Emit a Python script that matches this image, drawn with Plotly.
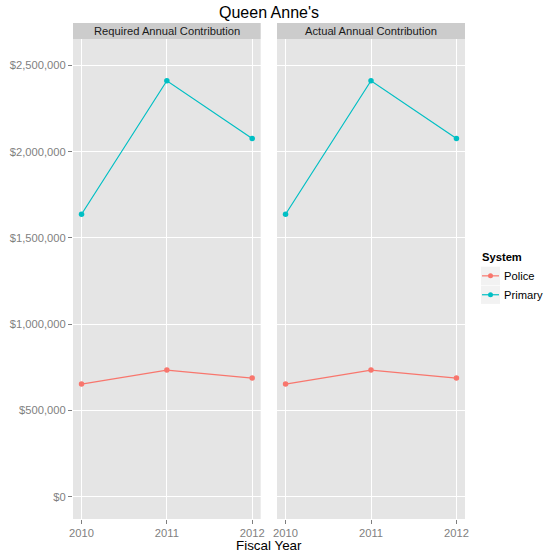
import plotly.graph_objects as go

# ---- data ----
years = [2010, 2011, 2012]
police_required = [653000, 734000, 688000]
primary_required = [1637000, 2411000, 2077000]
police_actual = [653000, 734000, 688000]
primary_actual = [1637000, 2411000, 2077000]
panel_titles = ["Required Annual Contribution", "Actual Annual Contribution"]
series_names = ["Police", "Primary"]
series_colors = ["#F8766D", "#00BFC4"]
y_tick_vals = [0, 500000, 1000000, 1500000, 2000000, 2500000]

W, H = 546, 559
PLOT_L, PLOT_R, PLOT_T, PLOT_B = 73, 465, 23, 519   # target screen pixels
ML, MT = PLOT_L, PLOT_T
MR = W - PLOT_R
MB = H - PLOT_B
PW = PLOT_R - PLOT_L
PH = PLOT_B - PLOT_T


def px(x):
    return (x - PLOT_L) / PW


def py(y):
    return (PLOT_B - y) / PH


fig = go.Figure()
panels = [(police_required, primary_required, "x", "y"),
          (police_actual, primary_actual, "x2", "y2")]
for pol, pri, xa, ya in panels:
    for vals, name, col in zip([pol, pri], series_names, series_colors):
        fig.add_trace(go.Scatter(
            x=years, y=vals, mode="lines+markers", name=name,
            line=dict(color=col, width=1.2),
            marker=dict(color=col, size=5.5),
            xaxis=xa, yaxis=ya, showlegend=False))

y_top = py(39)
dom_left = [0, px(260.7)]
dom_right = [px(277), 1]

axis_common = dict(
    showgrid=True, gridcolor="white", gridwidth=1,
    zeroline=False, showline=False, automargin=False,
    ticks="outside", ticklen=4, tickcolor="#7F7F7F", tickwidth=1,
    tickfont=dict(family="Liberation Sans, Arial, sans-serif", size=11.2, color="#7F7F7F"),
)
xr = [2009.9, 2012.1]
yr = [-129000, 2653000]

fig.update_layout(
    width=W, height=H,
    margin=dict(l=ML, r=MR, t=MT, b=MB, pad=0, autoexpand=False),
    paper_bgcolor="white",
    plot_bgcolor="#E5E5E5",
    showlegend=False,
    font=dict(family="Liberation Sans, Arial, sans-serif"),
    xaxis=dict(domain=dom_left, range=xr, tickvals=years, ticktext=[str(y) for y in years], **axis_common),
    xaxis2=dict(domain=dom_right, range=xr, tickvals=years, ticktext=[str(y) for y in years], anchor="y2", **axis_common),
    yaxis=dict(domain=[0, y_top], range=yr, tickvals=y_tick_vals, tickformat="$,d", **axis_common),
    yaxis2=dict(domain=[0, y_top], range=yr, tickvals=y_tick_vals, showticklabels=False,
                ticks="", anchor="x2", matches="y",
                **{k: v for k, v in axis_common.items() if k not in ("ticks",)}),
)

shapes = []
annotations = []
for (d0, d1), title in zip([dom_left, dom_right], panel_titles):
    shapes.append(dict(type="rect", xref="paper", yref="paper", x0=d0, x1=d1,
                       y0=y_top, y1=1, fillcolor="#CCCCCC", line=dict(width=0), layer="below"))
    annotations.append(dict(xref="paper", yref="paper", x=(d0 + d1) / 2, y=(y_top + 1) / 2,
                            text=title, showarrow=False, xanchor="center", yanchor="middle",
                            font=dict(size=11.2, color="#1A1A1A")))

# title
annotations.append(dict(xref="paper", yref="paper", x=px(268.5), y=py(12.5), text="Queen Anne's",
                        showarrow=False, xanchor="center", yanchor="middle",
                        font=dict(size=16, color="black")))
# x title
annotations.append(dict(xref="paper", yref="paper", x=px(269), y=py(545.5), text="Fiscal Year",
                        showarrow=False, xanchor="center", yanchor="middle",
                        font=dict(size=13.4, color="black")))

# legend
annotations.append(dict(xref="paper", yref="paper", x=px(480.5), y=py(257), text="<b>System</b>",
                        showarrow=False, xanchor="left", yanchor="middle",
                        font=dict(size=11.2, color="black")))
key_tops = [266.7, 285.6]
for (top, name, col) in zip(key_tops, series_names, series_colors):
    bot = top + 18.3
    cy = (top + bot) / 2
    shapes.append(dict(type="rect", xref="paper", yref="paper", x0=px(481), x1=px(500),
                       y0=py(bot), y1=py(top), fillcolor="#F2F2F2", line=dict(width=0)))
    shapes.append(dict(type="line", xref="paper", yref="paper", x0=px(482), x1=px(499),
                       y0=py(cy), y1=py(cy), line=dict(color=col, width=1.2)))
    shapes.append(dict(type="circle", xref="paper", yref="paper", x0=px(488), x1=px(493),
                       y0=py(cy + 2.5), y1=py(cy - 2.5), fillcolor=col, line=dict(width=0)))
    annotations.append(dict(xref="paper", yref="paper", x=px(501.5), y=py(cy), text=name,
                            showarrow=False, xanchor="left", yanchor="middle",
                            font=dict(size=11.2, color="black")))

fig.update_layout(shapes=shapes, annotations=annotations)
fig.write_html("out.html", config={"displayModeBar": False},
               post_script="document.body.style.margin='0px';")
